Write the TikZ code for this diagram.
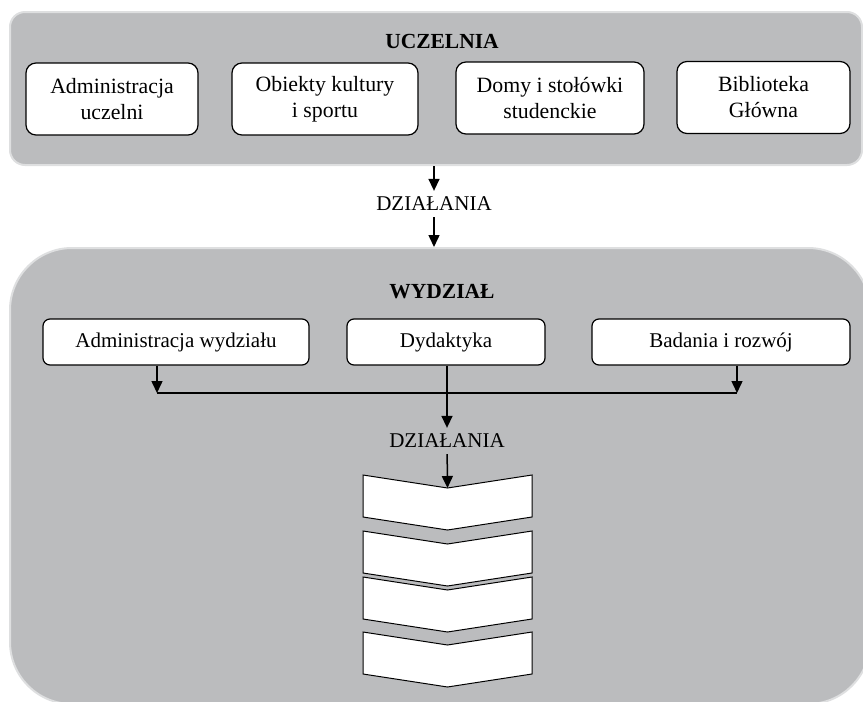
\documentclass[tikz,border=0pt]{standalone}
\usepackage{fontspec}
\setmainfont{Liberation Serif}
\usetikzlibrary{arrows.meta,
                positioning}
\definecolor{panelgray}{HTML}{BBBCBE}
\definecolor{edgegray}{HTML}{DEDFE0}

\begin{document}
\begin{tikzpicture}[x=1pt,y=-1pt,
                    >={Triangle[length=12pt,width=11pt]},
                    font=\fontsize{21}{26}\selectfont
                    ]
                % define styles
\tikzset{panel/.style={rectangle,
                       fill=panelgray,
                       draw=edgegray,
                       line width=2pt,
                       inner sep=0,
                       },
         unibox/.style={rectangle,
                       rounded corners=10pt,
                       draw=black,
                       fill=white,
                       line width=1.2pt,
                       align=center,
                       font=\fontsize{21.8}{26}\selectfont,
                       minimum height=72pt,
                       inner sep=0,
                       },
         wydbox/.style={rectangle,
                       rounded corners=7pt,
                       draw=black,
                       fill=white,
                       line width=1.2pt,
                       minimum height=46pt,
                       inner sep=0,
                       },
         title/.style={font=\fontsize{21.5}{26}\selectfont\bfseries},
         flowlabel/.style={inner sep=6pt},
         link/.style={line width=1.5pt},
         chevron/.style={draw=black, fill=white, line width=1pt, line join=miter}
}

\useasboundingbox (0,0) rectangle (863,702);

% panels
\node[panel, rounded corners=15pt, minimum width=852pt, minimum height=153pt] (ucz) at (436,88.5) {};
\node[panel, rounded corners=62pt, minimum width=860pt, minimum height=456pt] (wyd) at (440,476) {};

% titles
\node[title] (uczt) at (442,41)  {UCZELNIA};
\node[title] (wydt) at (442,292) {WYDZIAŁ};

% university units
\node[unibox, minimum width=172pt] (adm) at (112,99)   {Administracja\\uczelni};
\node[unibox, minimum width=186pt] (obk) at (325,99)   {Obiekty kultury\\i sportu};
\node[unibox, minimum width=188pt] (dom) at (550,98) {Domy i stołówki\\studenckie};
\node[unibox, minimum width=173pt] (bib) at (763.5,97.5) {Biblioteka\\Główna};

% faculty units
\node[wydbox, minimum width=266pt] (wadm) at (176,342) {Administracja wydziału};
\node[wydbox, minimum width=198pt] (wdyd) at (446,342) {Dydaktyka};
\node[wydbox, minimum width=258pt] (wbad) at (721,342) {Badania i rozwój};

% labels
\node[flowlabel] (dz1) at (434,204) {DZIAŁANIA};
\node[flowlabel] (dz2) at (447,441) {DZIAŁANIA};

% junctions
\coordinate (ja) at (157,393);
\coordinate (jc) at (737,393);

% chevrons
\foreach \i/\y in {1/475, 2/531, 3/577, 4/632}
{
    \draw[chevron] (363,\y) -- (447.5,\y+13) -- (532,\y) -- (532,\y+42)
                   -- (447.5,\y+55) -- (363,\y+42) -- cycle;
    \coordinate (ch\i) at (447.5,\y+13);
}

% connectors
\draw[link,->] (ucz.south -| dz1) -- (dz1);
\draw[link,->] (dz1) -- (wyd.north -| dz1);
\draw[link,->] (wadm.south -| ja) -- (ja);
\draw[link,->] (wbad.south -| jc) -- (jc);
\draw[link]    (ja) -- (jc);
\draw[link,->] (wdyd.south -| dz2) -- (dz2);
\draw[link,->] (dz2) -- (ch1);

\end{tikzpicture}
\end{document}
